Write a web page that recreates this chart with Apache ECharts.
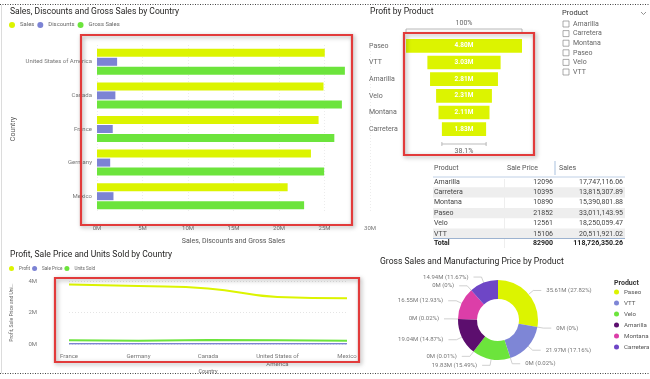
<!DOCTYPE html>
<html><head><meta charset="utf-8">
<script src="https://cdn.jsdelivr.net/npm/echarts@6/dist/echarts.min.js"></script>
<style>html,body{margin:0;padding:0;background:#fff}#c{width:650px;height:379px}</style>
</head><body><div id="c"></div>
<script>
// ---------- DATA ----------
// Sales, Discounts and Gross Sales by Country
const barCountries = ['United States of America', 'Canada', 'France', 'Germany', 'Mexico'];
const barSales = [25.03e6, 24.89e6, 24.35e6, 23.51e6, 20.95e6];
const barDiscounts = [2.21e6, 2.02e6, 1.73e6, 1.45e6, 1.81e6];
const barGrossSales = [27.24e6, 26.91e6, 26.08e6, 24.96e6, 22.76e6];
const barAxisMax = 30e6;
const barAxisStep = 5e6;

// Profit by Product (funnel)
const funnelProducts = ['Paseo', 'VTT', 'Amarilla', 'Velo', 'Montana', 'Carretera'];
const funnelProfit = [4.80e6, 3.03e6, 2.81e6, 2.31e6, 2.11e6, 1.83e6];

// Slicer
const slicerProducts = ['Amarilla', 'Carretera', 'Montana', 'Paseo', 'Velo', 'VTT'];

// Table
const tableProducts = ['Amarilla', 'Carretera', 'Montana', 'Paseo', 'Velo', 'VTT'];
const tableSalePrice = [12096, 10395, 10890, 21852, 12561, 15106];
const tableSales = [17747116.06, 13815307.89, 15390801.88, 33011143.95, 18250059.47, 20511921.02];
const tableTotalSalePrice = 82900;
const tableTotalSales = 118726350.26;

// Profit, Sale Price and Units Sold by Country
const lineCountries = ['France', 'Germany', 'Canada', 'United States of\nAmerica', 'Mexico'];
const lineProfit = [3.78e6, 3.68e6, 3.53e6, 2.99e6, 2.91e6];
const lineSalePrice = [16840, 16360, 16410, 16910, 16390];
const lineUnitsSold = [240931, 201494, 247428, 232627, 203325];
const lineAxisMax = 4e6;
const lineAxisStep = 2e6;

// Gross Sales and Manufacturing Price by Product (donut)
const pieProducts = ['Paseo', 'VTT', 'Velo', 'Amarilla', 'Montana', 'Carretera'];
const pieGrossSales = [35.61e6, 21.97e6, 19.83e6, 19.04e6, 16.55e6, 14.94e6];
const pieMfgPrice = [2020, 27250, 13080, 24440, 840, 438];

// ---------- STYLE ----------
const FONT = 'Roboto, "Noto Sans", sans-serif';
const YG = '#DCF400', BLUE = '#7C83D4', GREEN = '#6CE43C';
const pieColors = ['#DCF400', '#7E86D6', '#6CE43C', '#5C0E6E', '#DC3EA8', '#6E46C6'];
const LBL = '#777';
const RED = '#E23B3B';

const fmtM = v => Math.round(v / 1e6) + 'M';
const funnelMax = Math.max(...funnelProfit);
const pieTotal = pieGrossSales.reduce((a, b) => a + b, 0) + pieMfgPrice.reduce((a, b) => a + b, 0);

const pieData = [];
pieProducts.forEach((p, i) => {
  pieData.push({ name: p, value: pieGrossSales[i], itemStyle: { color: pieColors[i] } });
  pieData.push({ name: p + ' (Manufacturing Price)', value: pieMfgPrice[i], itemStyle: { color: pieColors[i] } });
});
// last label is hidden by overlap in the original
pieData[pieData.length - 1].label = { show: false };
pieData[pieData.length - 1].labelLine = { show: false };

// ---------- GRAPHICS ----------
const g = [];
function title(text, x, y) {
  g.push({ type: 'text', x: x, y: y, scaleX: 0.9, z: 50,
    style: { text: text, fontSize: 9.5, fontFamily: FONT, fill: '#252423', verticalAlign: 'middle' } });
}
function txt(text, x, y, opt) {
  g.push({ type: 'text', x: x, y: y, z: 50,
    style: Object.assign({ text: text, fontSize: 7, fontFamily: FONT, fill: '#444', verticalAlign: 'middle', align: 'left' }, opt || {}) });
}
function line(x1, y1, x2, y2, color, w, dash) {
  g.push({ type: 'line', z: 40, shape: { x1, y1, x2, y2 }, style: { stroke: color, lineWidth: w || 1, lineDash: dash || null } });
}
function redRect(x, y, w, h) {
  g.push({ type: 'rect', z: 100, shape: { x, y, width: w, height: h },
    style: { fill: 'none', stroke: RED, lineWidth: 2.2, shadowBlur: 4, shadowColor: 'rgba(0,0,0,0.35)', shadowOffsetX: 1.5, shadowOffsetY: 1.5 } });
}

// borders
line(0, 4.5, 650, 4.5, '#444', 1, [1, 1.5]);
line(0, 373.5, 650, 373.5, '#444', 1, [1, 1.5]);
line(1.5, 5, 1.5, 373, '#dcdcdc', 1);

// titles
title('Sales, Discounts and Gross Sales by Country', 10, 12);
title('Profit by Product', 370, 12);
title('Profit, Sale Price and Units Sold by Country', 10, 255);
title('Gross Sales and Manufacturing Price by Product', 380, 262);

// slicer
txt('Product', 562, 13, { fontSize: 7.5, fill: '#333' });
g.push({ type: 'polyline', z: 40, shape: { points: [[641, 12], [643.5, 14.5], [646, 12]] }, style: { stroke: '#777', lineWidth: 0.8, fill: 'none' } });
slicerProducts.forEach((p, i) => {
  const y = 24 + i * 9.6;
  g.push({ type: 'rect', z: 40, shape: { x: 563, y: y - 3, width: 6, height: 6 }, style: { fill: '#fff', stroke: '#888', lineWidth: 0.7 } });
  txt(p, 573, y, { fill: '#666' });
});

// table
const tL = 433, tR = 625, rowH = 10.35, row0 = 182;
txt('Product', 434, 168, { fill: '#555' });
txt('Sale Price', 507, 168, { fill: '#555' });
txt('Sales', 559, 168, { fill: '#555' });
line(555, 161, 555, 175, '#A9C1DE', 1);
line(504.5, 179, 504.5, 248, '#eeeeee', 1);
line(tL, 177, tR, 177, '#BFD0E6', 1);
tableProducts.forEach((p, i) => {
  const y = row0 + i * rowH;
  if (i % 2 === 1) g.push({ type: 'rect', z: 30, shape: { x: tL, y: y - rowH / 2, width: tR - tL, height: rowH }, style: { fill: '#EEEEEE' } });
  txt(p, 434, y);
  txt(String(tableSalePrice[i]), 553, y, { align: 'right' });
  txt(tableSales[i].toLocaleString('en-US', { minimumFractionDigits: 2, maximumFractionDigits: 2 }), 623, y, { align: 'right' });
});
line(tL, 238.5, tR, 238.5, '#9DB3D0', 1);
txt('Total', 434, 243.5, { fontWeight: 'bold', fill: '#222' });
txt(String(tableTotalSalePrice), 553, 243.5, { align: 'right', fontWeight: 'bold', fill: '#222' });
txt(tableTotalSales.toLocaleString('en-US', { minimumFractionDigits: 2, maximumFractionDigits: 2 }), 623, 243.5, { align: 'right', fontWeight: 'bold', fill: '#222' });

// pie legend title
txt('Product', 614, 283, { fontSize: 7, fontWeight: 'bold', fill: '#333' });

// red highlight rectangles
redRect(81, 35, 271, 190);
redRect(404, 33, 130, 122);
redRect(55, 278, 304, 84);

// ---------- CHART ----------
const chart = echarts.init(document.getElementById('c'), null, { renderer: 'canvas', width: 650, height: 379 });

const smallLabel = { fontFamily: FONT, color: LBL };

const option = {
  backgroundColor: '#ffffff',
  animation: false,
  textStyle: { fontFamily: FONT },
  legend: [
    { data: ['Sales', 'Discounts', 'Gross Sales'], left: 9, top: 22, padding: 0, icon: 'circle', itemWidth: 6, itemHeight: 6, itemGap: 3,
      textStyle: { fontSize: 5.9, color: '#666', fontFamily: FONT } },
    { data: ['Profit', 'Sale Price', 'Units Sold'], left: 9, top: 266, padding: 0, icon: 'circle', itemWidth: 5, itemHeight: 5, itemGap: 2,
      textStyle: { fontSize: 4.6, color: '#666', fontFamily: FONT } },
    { data: pieProducts, orient: 'vertical', left: 614, top: 289, padding: 0, icon: 'circle', itemWidth: 5, itemHeight: 5, itemGap: 5,
      textStyle: { fontSize: 6.2, color: '#555', fontFamily: FONT } }
  ],
  grid: [
    { left: 97, top: 45, width: 273, height: 168 },
    { left: 406, top: 37.5, width: 116, height: 100 },
    { left: 69, top: 281, width: 278, height: 63 }
  ],
  xAxis: [
    { gridIndex: 0, type: 'value', min: 0, max: barAxisMax, interval: barAxisStep,
      axisLine: { show: false }, axisTick: { show: false },
      splitLine: { show: true, lineStyle: { color: '#ececec', type: [1, 2] } },
      axisLabel: Object.assign({ fontSize: 6, margin: 12, formatter: fmtM }, smallLabel),
      name: 'Sales, Discounts and Gross Sales', nameLocation: 'middle', nameGap: 25,
      nameTextStyle: { fontSize: 7, color: '#555', fontFamily: FONT } },
    { gridIndex: 1, type: 'value', min: 0, max: funnelMax, show: false },
    { gridIndex: 2, type: 'category', data: lineCountries, boundaryGap: false,
      axisLine: { show: false }, axisTick: { show: false },
      axisLabel: Object.assign({ fontSize: 6, margin: 8, lineHeight: 8, interval: 0 }, smallLabel),
      name: 'Country', nameLocation: 'middle', nameGap: 24,
      nameTextStyle: { fontSize: 5.5, color: '#666', fontFamily: FONT } }
  ],
  yAxis: [
    { gridIndex: 0, type: 'category', data: barCountries, inverse: true,
      axisLine: { show: false }, axisTick: { show: false },
      axisLabel: Object.assign({ fontSize: 6, margin: 5 }, smallLabel),
      name: 'Country', nameLocation: 'middle', nameGap: 80, nameRotate: 90,
      nameTextStyle: { fontSize: 7, color: '#555', fontFamily: FONT } },
    { gridIndex: 1, type: 'category', data: funnelProducts, inverse: true,
      axisLine: { show: false }, axisTick: { show: false }, splitLine: { show: false },
      axisLabel: Object.assign({ fontSize: 7, margin: 37, align: 'left' }, { fontFamily: FONT, color: '#666' }) },
    { gridIndex: 2, type: 'value', min: 0, max: lineAxisMax, interval: lineAxisStep,
      axisLine: { show: false }, axisTick: { show: false },
      splitLine: { show: true, lineStyle: { color: '#e4e4e4', type: [1, 2] } },
      axisLabel: Object.assign({ fontSize: 6, margin: 32, formatter: fmtM }, smallLabel),
      name: 'Profit, Sale Price and Uni...', nameLocation: 'middle', nameGap: 55, nameRotate: 90,
      nameTextStyle: { fontSize: 5, color: '#666', fontFamily: FONT } }
  ],
  series: [
    { type: 'bar', name: 'Sales', xAxisIndex: 0, yAxisIndex: 0, data: barSales, barWidth: 8, barGap: '12.5%', itemStyle: { color: YG } },
    { type: 'bar', name: 'Discounts', xAxisIndex: 0, yAxisIndex: 0, data: barDiscounts, barWidth: 8, barGap: '12.5%', itemStyle: { color: BLUE } },
    { type: 'bar', name: 'Gross Sales', xAxisIndex: 0, yAxisIndex: 0, data: barGrossSales, barWidth: 8, barGap: '12.5%', itemStyle: { color: GREEN } },

    { type: 'custom', name: 'Profit by Product', xAxisIndex: 1, yAxisIndex: 1,
      data: funnelProfit.map((v, i) => [i, v]),
      renderItem: function (params, api) {
        const cat = api.value(0), v = api.value(1);
        const c = api.coord([funnelMax / 2, cat]);
        const w = api.size([v, 0])[0];
        const h = api.size([0, 1])[1] - 3;
        const children = [
          { type: 'rect', shape: { x: c[0] - w / 2, y: c[1] - h / 2, width: w, height: h }, style: { fill: YG } },
          { type: 'text', style: { text: (v / 1e6).toFixed(2) + 'M', x: c[0], y: c[1], align: 'center', verticalAlign: 'middle',
              fill: '#ffffff', fontSize: 6.5, fontWeight: 'bold', fontFamily: FONT } }
        ];
        const n = funnelProfit.length;
        if (cat === 0) {
          const y = c[1] - h / 2 - 10;
          children.push({ type: 'polyline', shape: { points: [[c[0] - w / 2, y + 3], [c[0] - w / 2, y], [c[0] + w / 2, y], [c[0] + w / 2, y + 3]] }, style: { stroke: '#aaa', lineWidth: 0.8, fill: 'none' } });
          children.push({ type: 'text', style: { text: '100%', x: c[0], y: y - 6, align: 'center', verticalAlign: 'middle', fill: '#666', fontSize: 7, fontFamily: FONT } });
        }
        if (cat === n - 1) {
          const y = c[1] + h / 2 + 8;
          children.push({ type: 'polyline', shape: { points: [[c[0] - w / 2, y - 2], [c[0] - w / 2, y + 2]] }, style: { stroke: '#aaa', lineWidth: 0.8 } });
          children.push({ type: 'polyline', shape: { points: [[c[0] + w / 2, y - 2], [c[0] + w / 2, y + 2]] }, style: { stroke: '#aaa', lineWidth: 0.8 } });
          children.push({ type: 'line', shape: { x1: c[0] - w / 2, y1: y, x2: c[0] + w / 2, y2: y }, style: { stroke: '#aaa', lineWidth: 0.8 } });
          children.push({ type: 'text', style: { text: (v / funnelProfit[0] * 100).toFixed(1) + '%', x: c[0], y: y + 7, align: 'center', verticalAlign: 'middle', fill: '#666', fontSize: 7, fontFamily: FONT } });
        }
        return { type: 'group', children: children };
      } },

    { type: 'line', name: 'Profit', xAxisIndex: 2, yAxisIndex: 2, data: lineProfit, smooth: true, showSymbol: false, symbol: 'circle',
      lineStyle: { color: YG, width: 2 }, itemStyle: { color: YG } },
    { type: 'line', name: 'Sale Price', xAxisIndex: 2, yAxisIndex: 2, data: lineSalePrice, showSymbol: false, symbol: 'circle',
      lineStyle: { color: BLUE, width: 1.5 }, itemStyle: { color: BLUE } },
    { type: 'line', name: 'Units Sold', xAxisIndex: 2, yAxisIndex: 2, data: lineUnitsSold, showSymbol: false, symbol: 'circle',
      lineStyle: { color: GREEN, width: 2 }, itemStyle: { color: GREEN } },

    { type: 'pie', name: 'Gross Sales and Manufacturing Price', center: [498, 320], radius: [21, 40], startAngle: 90, clockwise: true,
      avoidLabelOverlap: true,
      label: { fontSize: 6, color: LBL, fontFamily: FONT,
        formatter: function (p) {
          const v = p.value;
          const m = v < 1e5 ? '0' : (v / 1e6).toFixed(2);
          const pc = v / pieTotal * 100;
          const ps = pc < 0.005 ? '0' : pc.toFixed(2);
          return m + 'M (' + ps + '%)';
        } },
      labelLine: { length: 6, length2: 8, lineStyle: { color: '#bbb', width: 0.7 } },
      data: pieData }
  ],
  graphic: { elements: g }
};
chart.setOption(option);
</script>
</body></html>
